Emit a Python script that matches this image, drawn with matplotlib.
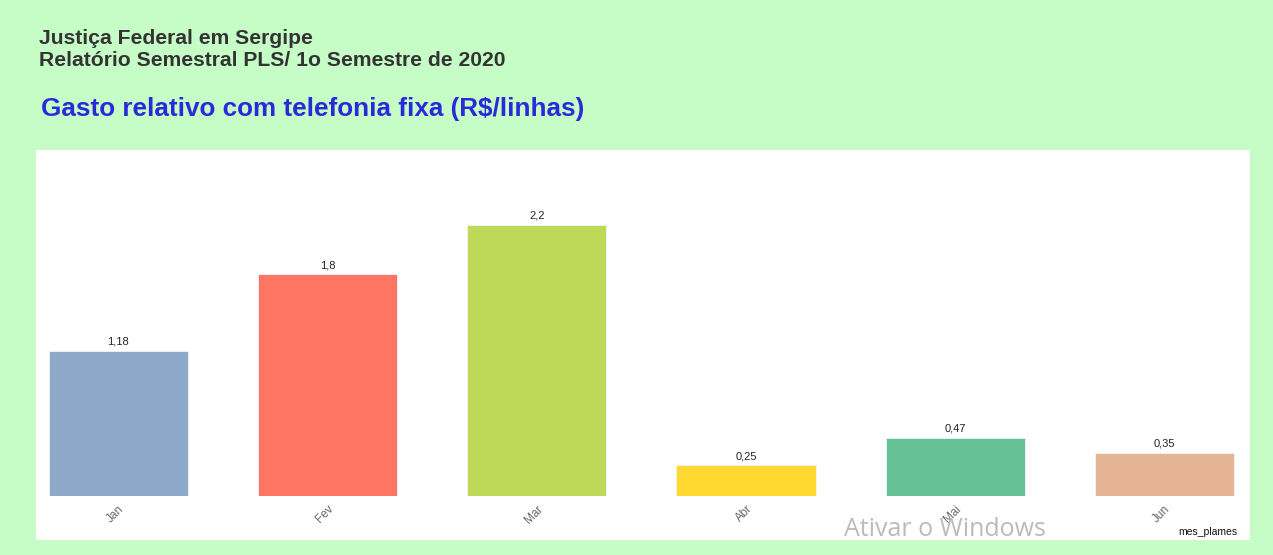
import matplotlib.pyplot as plt
from matplotlib.patches import Rectangle

plt.rcParams["font.family"] = ["Liberation Sans", "DejaVu Sans"]

months = ["Jan", "Fev", "Mar", "Abr", "Mai", "Jun"]
values = [1.18, 1.8, 2.2, 0.25, 0.47, 0.35]
labels = ["1,18", "1,8", "2,2", "0,25", "0,47", "0,35"]
colors = ["#8DA9C9", "#FF7563", "#BDD957", "#FFD92F", "#66C296", "#E5B494"]

W, H = 1273, 555
fig = plt.figure(figsize=(W / 100, H / 100), dpi=100)
fig.patch.set_facecolor("#C6FDC6")

# white panel behind the plot
fig.add_artist(Rectangle((36 / W, 1 - 540 / H), 1214 / W, 390 / H,
                         transform=fig.transFigure, facecolor="white",
                         edgecolor="none", zorder=0))

fig.text(39 / W, 1 - 38 / H, "Justiça Federal em Sergipe", fontsize=15.2,
         fontweight="bold", color="#333333", va="center")
fig.text(39 / W, 1 - 60 / H, "Relatório Semestral PLS/ 1o Semestre de 2020",
         fontsize=15.2, fontweight="bold", color="#333333", va="center")
fig.text(41 / W, 1 - 109 / H, "Gasto relativo com telefonia fixa (R$/linhas)",
         fontsize=18.8, fontweight="bold", color="#2A2AD8", va="center")

ax = fig.add_axes([36 / W, 1 - 496 / H, 1214 / W, 346 / H])
ax.patch.set_alpha(0)
x = list(range(len(months)))
bars = ax.bar(x, values, width=0.665, color=colors, edgecolor="#f4f4f4",
              linewidth=0.6)
for xi, v, lab in zip(x, values, labels):
    ax.annotate(lab, (xi, v), xytext=(0, 3), textcoords="offset points",
                ha="center", va="bottom", fontsize=8, color="#222222")

ax.set_xlim(-0.394, 5.409)
ax.set_ylim(0, 2.808)
ax.set_xticks(x)
ax.set_xticklabels(months, rotation=45, ha="right", rotation_mode="anchor",
                   fontsize=8.5, color="#666666")
ax.tick_params(axis="x", length=0, pad=5)
ax.set_yticks([])
for s in ax.spines.values():
    s.set_visible(False)

fig.text(1237 / W, 1 - 532 / H, "mes_plames", fontsize=7.5, color="#111111",
         ha="right", va="center")
fig.text(844 / W, 1 - 530 / H, "Ativar o Windows", fontsize=18,
         color="#BBBBBB", ha="left", va="center", family=["Open Sans", "DejaVu Sans"])

fig.savefig("out.png", dpi=100, facecolor=fig.get_facecolor())
